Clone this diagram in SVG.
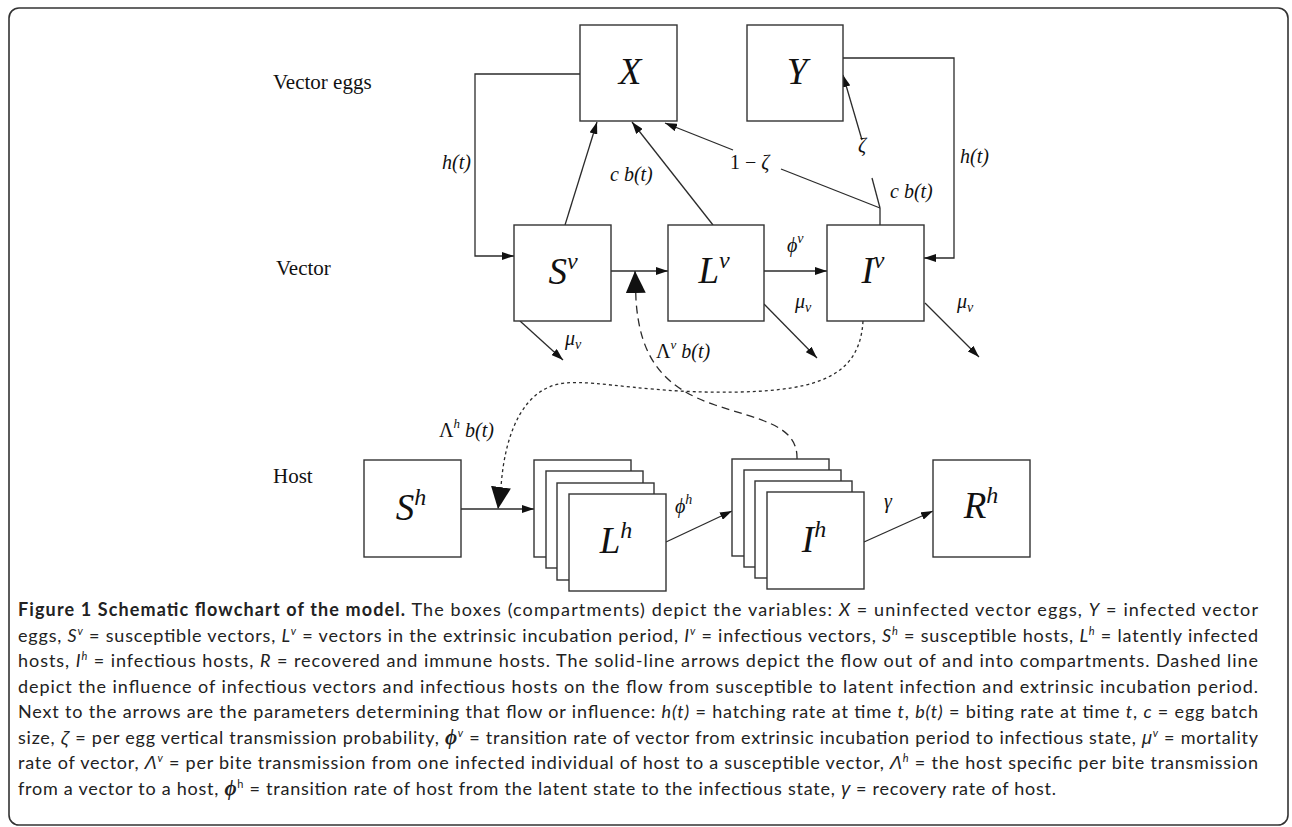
<svg xmlns="http://www.w3.org/2000/svg" width="1292" height="827" viewBox="0 0 1292 827">
<defs>
<style>
.frame{fill:#fff;stroke:#333;stroke-width:1.6}
.box{fill:#fff;stroke:#333;stroke-width:1.4}
.ln{fill:none;stroke:#2b2b2b;stroke-width:1.3}
.arr{marker-end:url(#ah)}
.dl{fill:none;stroke:#2b2b2b;stroke-width:1.3;stroke-dasharray:8 5;marker-end:url(#big)}
.ds{fill:none;stroke:#2b2b2b;stroke-width:1.3;stroke-dasharray:3 3;marker-end:url(#big)}
.side{font-family:"Liberation Serif",serif;font-size:21px;fill:#111}
.var{font-family:"Liberation Serif",serif;font-style:italic;font-size:37px;fill:#111}
.lab{font-family:"Liberation Serif",serif;font-style:italic;font-size:20px;fill:#111}
.up{font-style:normal}
.cap{font-family:Lato,"Liberation Sans",sans-serif;font-size:18px;fill:#222}
.ci{font-style:italic}
.cg{font-family:"Liberation Sans",sans-serif;font-style:italic}
.cb{font-family:"Liberation Serif",serif;font-weight:bold;font-style:italic;font-size:21px}
.cs{font-size:11px}
</style>
<marker id="ah" viewBox="0 0 12 8" refX="12" refY="4" markerWidth="12" markerHeight="8" markerUnits="userSpaceOnUse" orient="auto"><path d="M0,0L12,4L0,8z" fill="#111"/></marker>
<marker id="big" viewBox="0 0 22 20" refX="22" refY="10" markerWidth="22" markerHeight="20" markerUnits="userSpaceOnUse" orient="auto"><path d="M0,0L22,10L0,20z" fill="#111"/></marker>
</defs>
<rect class="frame" x="9" y="8" width="1279" height="817" rx="10"/>
<g id="side-labels">
<text class="side" x="273" y="89">Vector eggs</text>
<text class="side" x="276" y="275">Vector</text>
<text class="side" x="273" y="483">Host</text>
</g>
<g id="connectors">
<polyline class="ln arr" points="580,74 475,74 475,256 514,256"/>
<line class="ln arr" x1="565" y1="225" x2="597" y2="122"/>
<line class="ln arr" x1="713" y1="225" x2="632" y2="122"/>
<line class="ln" x1="880" y1="225" x2="880" y2="208"/>
<line class="ln" x1="880" y1="208" x2="781" y2="169"/>
<line class="ln arr" x1="733" y1="150" x2="665" y2="123"/>
<line class="ln" x1="880" y1="208" x2="872" y2="178"/>
<line class="ln arr" x1="862" y1="140" x2="843" y2="75"/>
<polyline class="ln arr" points="843,58 954,58 954,258 924,258"/>
<line class="ln arr" x1="611" y1="271" x2="668" y2="271"/>
<line class="ln arr" x1="764" y1="271" x2="827" y2="271"/>
<line class="ln arr" x1="520" y1="321" x2="563" y2="360"/>
<line class="ln arr" x1="764" y1="304" x2="817" y2="358"/>
<line class="ln arr" x1="925" y1="303" x2="979" y2="357"/>
<line class="ln arr" x1="461" y1="509" x2="534" y2="509"/>
<line class="ln arr" x1="666" y1="542" x2="732" y2="511"/>
<line class="ln arr" x1="864" y1="542" x2="933" y2="511"/>
<path class="dl" d="M797,459 C798,425 760,420 715,405 C665,388 640,360 636,300 L635,271"/>
<path class="ds" d="M863,321 C860,375 820,390 740,392 C650,394 600,380 565,383 C525,387 505,430 501,487 L498,509"/>
</g>
<g id="node-X"><rect class="box" x="580" y="25" width="97" height="96"/><text class="var" x="630" y="84" text-anchor="middle">X</text></g>
<g id="node-Y"><rect class="box" x="747" y="25" width="96" height="96"/><text class="var" x="797" y="84" text-anchor="middle">Y</text></g>
<g id="node-Sv"><rect class="box" x="514" y="225" width="97" height="96"/><text class="var" x="563" y="284" text-anchor="middle">S<tspan font-size="24" dy="-15">v</tspan></text></g>
<g id="node-Lv"><rect class="box" x="668" y="225" width="96" height="96"/><text class="var" x="714" y="283" text-anchor="middle">L<tspan font-size="24" dy="-15">v</tspan></text></g>
<g id="node-Iv"><rect class="box" x="827" y="225" width="97" height="96"/><text class="var" x="873" y="283" text-anchor="middle">I<tspan font-size="24" dy="-15">v</tspan></text></g>
<g id="node-Sh"><rect class="box" x="364" y="460" width="97" height="97"/><text class="var" x="411" y="520" text-anchor="middle">S<tspan font-size="24" dy="-15">h</tspan></text></g>
<g id="node-Lh">
<rect class="box" x="534" y="460" width="97" height="97"/>
<rect class="box" x="546" y="471" width="97" height="97"/>
<rect class="box" x="557" y="483" width="97" height="97"/>
<rect class="box" x="569" y="494" width="97" height="97"/>
<text class="var" x="616" y="553" text-anchor="middle">L<tspan font-size="24" dy="-15">h</tspan></text></g>
<g id="node-Ih">
<rect class="box" x="732" y="459" width="97" height="97"/>
<rect class="box" x="744" y="470" width="97" height="97"/>
<rect class="box" x="755" y="481" width="97" height="97"/>
<rect class="box" x="767" y="492" width="97" height="97"/>
<text class="var" x="814" y="552" text-anchor="middle">I<tspan font-size="24" dy="-15">h</tspan></text></g>
<g id="node-Rh"><rect class="box" x="933" y="460" width="97" height="97"/><text class="var" x="981" y="518" text-anchor="middle">R<tspan font-size="24" dy="-15">h</tspan></text></g>
<g id="edge-labels">
<text class="lab" x="442" y="169">h(t)</text>
<text class="lab" x="610" y="181">c b(t)</text>
<text class="lab" x="960" y="163">h(t)</text>
<text class="lab" x="890" y="198">c b(t)</text>
<text class="lab up" x="730" y="169" font-size="22">1 − <tspan font-style="italic">ζ</tspan></text>
<text class="lab" x="858" y="152" font-size="22">ζ</text>
<text class="lab" x="787" y="252">ϕ<tspan font-size="14" dy="-9">v</tspan></text>
<text class="lab" x="565" y="345">μ<tspan font-size="14" dy="4">v</tspan></text>
<text class="lab" x="795" y="308">μ<tspan font-size="14" dy="4">v</tspan></text>
<text class="lab" x="957" y="308">μ<tspan font-size="14" dy="4">v</tspan></text>
<text class="lab" x="656" y="358"><tspan font-style="normal">Λ</tspan><tspan font-size="13" dy="-9">v</tspan><tspan dy="9"> b(t)</tspan></text>
<text class="lab" x="439" y="437"><tspan font-style="normal">Λ</tspan><tspan font-size="13" dy="-9">h</tspan><tspan dy="9"> b(t)</tspan></text>
<text class="lab" x="675" y="513">ϕ<tspan font-size="14" dy="-9">h</tspan></text>
<text class="lab" x="884" y="508">γ</text>
</g>
<g id="caption">
<text class="cap" x="18" y="616" textLength="1240" lengthAdjust="spacing"><tspan font-weight="bold">Figure 1 Schematic flowchart of the model.</tspan> The boxes (compartments) depict the variables: <tspan class="ci">X</tspan> = uninfected vector eggs, <tspan class="ci">Y</tspan> = infected vector</text>
<text class="cap" x="18" y="641.5" textLength="1240" lengthAdjust="spacing">eggs, <tspan class="ci">S</tspan><tspan class="ci cs" dy="-7">v</tspan><tspan dy="7"> = susceptible vectors, </tspan><tspan class="ci">L</tspan><tspan class="ci cs" dy="-7">v</tspan><tspan dy="7"> = vectors in the extrinsic incubation period, </tspan><tspan class="ci">I</tspan><tspan class="ci cs" dy="-7">v</tspan><tspan dy="7"> = infectious vectors, </tspan><tspan class="ci">S</tspan><tspan class="ci cs" dy="-7">h</tspan><tspan dy="7"> = susceptible hosts, </tspan><tspan class="ci">L</tspan><tspan class="ci cs" dy="-7">h</tspan><tspan dy="7"> = latently infected</tspan></text>
<text class="cap" x="18" y="667" textLength="1240" lengthAdjust="spacing">hosts, <tspan class="ci">I</tspan><tspan class="ci cs" dy="-7">h</tspan><tspan dy="7"> = infectious hosts, </tspan><tspan class="ci">R</tspan> = recovered and immune hosts. The solid-line arrows depict the flow out of and into compartments. Dashed line</text>
<text class="cap" x="18" y="692.5" textLength="1240" lengthAdjust="spacing">depict the influence of infectious vectors and infectious hosts on the flow from susceptible to latent infection and extrinsic incubation period.</text>
<text class="cap" x="18" y="718" textLength="1240" lengthAdjust="spacing">Next to the arrows are the parameters determining that flow or influence: <tspan class="ci">h(t)</tspan> = hatching rate at time <tspan class="ci">t</tspan>, <tspan class="ci">b(t)</tspan> = biting rate at time <tspan class="ci">t</tspan>, <tspan class="ci">c</tspan> = egg batch</text>
<text class="cap" x="18" y="743.5" textLength="1240" lengthAdjust="spacing">size, <tspan class="cg">ζ</tspan> = per egg vertical transmission probability, <tspan class="cb">ϕ</tspan><tspan class="ci cs" dy="-7">v</tspan><tspan dy="7"> = transition rate of vector from extrinsic incubation period to infectious state, </tspan><tspan class="cg">μ</tspan><tspan class="ci cs" dy="-7">v</tspan><tspan dy="7"> = mortality</tspan></text>
<text class="cap" x="18" y="769" textLength="1240" lengthAdjust="spacing">rate of vector, <tspan class="cg">Λ</tspan><tspan class="ci cs" dy="-7">v</tspan><tspan dy="7"> = per bite transmission from one infected individual of host to a susceptible vector, </tspan><tspan class="cg">Λ</tspan><tspan class="ci cs" dy="-7">h</tspan><tspan dy="7"> = the host specific per bite transmission</tspan></text>
<text class="cap" x="18" y="794.5" textLength="1038" lengthAdjust="spacing">from a vector to a host, <tspan class="cb">ϕ</tspan><tspan class="cs" dy="-7">h</tspan><tspan dy="7"> = transition rate of host from the latent state to the infectious state, </tspan><tspan class="cg">γ</tspan> = recovery rate of host.</text>
</g>
</svg>
